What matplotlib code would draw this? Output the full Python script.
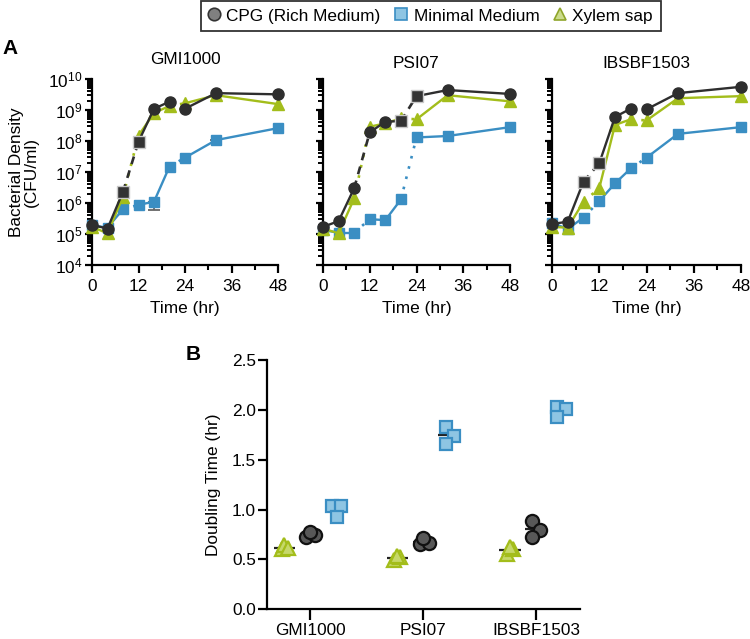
import matplotlib
matplotlib.use("Agg")
import matplotlib.pyplot as plt
import numpy as np
from matplotlib.lines import Line2D
from matplotlib.ticker import LogLocator, NullFormatter, MultipleLocator, FormatStrFormatter

plt.rcParams['font.family'] = ['Liberation Sans', 'DejaVu Sans']
plt.rcParams['mathtext.default'] = 'regular'
FS = 12.4

# ---- data, panel A: growth curves (CFU/ml) ----
times = [0, 4, 8, 12, 16, 20, 24, 32, 48]
strains = ["GMI1000", "PSI07", "IBSBF1503"]

cpg = {
    "GMI1000":   [1.95e5, 1.5e5, 2.3e6, 9.5e7, 1.1e9, 1.85e9, 1.1e9, 3.5e9, 3.2e9],
    "PSI07":     [1.7e5, 2.6e5, 3.0e6, 1.9e8, 4.2e8, 4.4e8, 2.8e9, 4.4e9, 3.3e9],
    "IBSBF1503": [2.1e5, 2.5e5, 4.9e6, 1.9e7, 6.0e8, 1.1e9, 1.05e9, 3.5e9, 5.6e9],
}
minimal = {
    "GMI1000":   [1.9e5, 1.6e5, 6.3e5, 8.7e5, 1.1e6, 1.5e7, 2.9e7, 1.07e8, 2.6e8],
    "PSI07":     [1.35e5, 1.1e5, 1.1e5, 3.0e5, 2.8e5, 1.3e6, 1.3e8, 1.45e8, 2.8e8],
    "IBSBF1503": [2.3e5, 1.45e5, 3.4e5, 1.15e6, 4.3e6, 1.3e7, 2.9e7, 1.7e8, 2.8e8],
}
xylem = {
    "GMI1000":   [1.7e5, 1.05e5, 1.6e6, 1.5e8, 8.0e8, 1.35e9, 1.65e9, 3.0e9, 1.55e9],
    "PSI07":     [1.5e5, 1.05e5, 1.4e6, 2.9e8, 3.7e8, 5.4e8, 5.0e8, 3.0e9, 1.9e9],
    "IBSBF1503": [1.7e5, 1.6e5, 1.1e6, 3.0e6, 3.3e8, 5.0e8, 4.6e8, 2.4e9, 2.8e9],
}
# lower end of the minimal medium error bars (only the visible ones)
minimal_lo = {
    "GMI1000":   [0, 0, 0, 0, 6.0e5, 0, 0, 8.5e7, 0],
    "PSI07":     [0, 0, 0, 0, 0, 0, 0, 0, 0],
    "IBSBF1503": [0, 0, 0, 0, 0, 0, 0, 0, 0],
}
# exponential window used for the CPG doubling time
cpg_window = {"GMI1000": (8, 12), "PSI07": (20, 24), "IBSBF1503": (8, 12)}

# ---- data, panel B: doubling times (hr) ----
dt_xylem = {"GMI1000": [0.60, 0.645, 0.61], "PSI07": [0.49, 0.52, 0.53], "IBSBF1503": [0.55, 0.60, 0.62]}
dt_cpg = {"GMI1000": [0.73, 0.745, 0.78], "PSI07": [0.655, 0.66, 0.72], "IBSBF1503": [0.89, 0.80, 0.73]}
dt_minimal = {"GMI1000": [1.04, 1.04, 0.93], "PSI07": [1.83, 1.74, 1.66], "IBSBF1503": [2.03, 2.01, 1.93]}
jitter_xylem = {"GMI1000": [-0.25, -0.23, -0.20], "PSI07": [-0.26, -0.21, -0.23], "IBSBF1503": [-0.26, -0.20, -0.23]}
jitter_cpg = {"GMI1000": [-0.035, 0.04, 0.0], "PSI07": [-0.03, 0.05, 0.0], "IBSBF1503": [-0.035, 0.032, -0.035]}
jitter_minimal = {"GMI1000": [0.19, 0.27, 0.24], "PSI07": [0.2, 0.27, 0.2], "IBSBF1503": [0.19, 0.27, 0.19]}

# colours
c_black = '#2e2e2e'
c_blue = '#3a8ec3'
c_green = '#a3bd1b'

fig = plt.figure(figsize=(7.5, 6.39), dpi=100)

# ---- panel A ----
lefts = [92, 323, 552]
widths = [186, 187, 189]


def draw_series(ax, y, color, marker, ms, gaps, broken, zorder):
    t = np.array(times)
    y = np.array(y)
    for i in range(len(t) - 1):
        seg = (t[i], t[i + 1])
        if seg in gaps:
            continue
        if seg in [(8, 12), (20, 24)]:
            ax.plot(t[i:i + 2], y[i:i + 2], color=color, lw=1.9, ls=broken, zorder=zorder, clip_on=False)
        else:
            ax.plot(t[i:i + 2], y[i:i + 2], color=color, lw=1.7, zorder=zorder, clip_on=False)
    ax.plot(t, y, ls='none', marker=marker, ms=ms, color=color, mec=color, zorder=zorder + 0.5, clip_on=False)


for k, s in enumerate(strains):
    ax = fig.add_axes([lefts[k] / 750, (639 - 265) / 639, widths[k] / 750, 186 / 639])
    ax.set_yscale('log')
    ax.set_ylim(1e4, 1e10)
    ax.set_xlim(0, 48)

    t = np.array(times)
    lo = np.array(minimal_lo[s])
    m = lo > 0
    ym = np.array(minimal[s])
    ax.errorbar(t[m], ym[m], yerr=[ym[m] - lo[m], np.zeros(m.sum())],
                fmt='none', ecolor='#666666', elinewidth=1.3, capsize=4, capthick=1.3, zorder=1)
    w = cpg_window[s]
    draw_series(ax, minimal[s], c_blue, 's', 7, [], (0, (1, 3)), 2)
    draw_series(ax, xylem[s], c_green, '^', 8, [], (0, (1, 3)), 3)
    gaps = [(20, 24)] if w == (8, 12) else []
    draw_series(ax, cpg[s], c_black, 'o', 8, gaps, (0, (3, 2.5)), 4)
    # squares marking the exponential window
    i0, i1 = times.index(w[0]), times.index(w[1])
    ax.plot([w[0], w[1]], [cpg[s][i0], cpg[s][i1]], ls='none', marker='s', ms=8,
            mfc='#333333', mec='#c8c8c8', mew=1.0, zorder=5, clip_on=False)

    ax.set_title(s, fontsize=FS, pad=11 if k == 0 else 8)
    ax.set_xticks([0, 12, 24, 36, 48])
    ax.set_xticks([6, 18, 30, 42], minor=True)
    ax.yaxis.set_major_locator(LogLocator(base=10, numticks=10))
    ax.yaxis.set_minor_locator(LogLocator(base=10, subs=np.arange(2, 10), numticks=20))
    ax.yaxis.set_minor_formatter(NullFormatter())
    if k > 0:
        ax.set_yticklabels([])
    for sp in ['top', 'right']:
        ax.spines[sp].set_visible(False)
    for sp in ['left', 'bottom']:
        ax.spines[sp].set_linewidth(1.6)
    ax.tick_params(axis='x', which='major', direction='out', length=5.8, width=1.6, labelsize=FS, pad=4.5)
    ax.tick_params(axis='x', which='minor', direction='out', length=3.6, width=1.5)
    ax.tick_params(axis='y', which='major', direction='out', length=5, width=1.6, labelsize=FS, pad=2)
    ax.tick_params(axis='y', which='minor', direction='out', length=3.4, width=1.4)
    ax.set_xlabel("Time (hr)", fontsize=FS, labelpad=5)

fig.text(24 / 750, 1 - 172 / 639, "Bacterial Density\n(CFU/ml)", rotation=90, ha='center', va='center',
         fontsize=FS, linespacing=1.05)
fig.text(10 / 750, 1 - 49 / 639, "A", fontsize=15, fontweight='bold', ha='center', va='center')

# ---- panel B ----
axb = fig.add_axes([267 / 750, (639 - 609.3) / 639, 313 / 750, 249.3 / 639])
xs = np.arange(1, len(strains) + 1)
for k, s in enumerate(strains):
    for vals, jit, off, mk, ms, fc, ec in [
        (dt_xylem[s], jitter_xylem[s], -0.23, '^', 10, '#c6d86a', c_green),
        (dt_cpg[s], jitter_cpg[s], 0.0, 'o', 9.5, '#585858', '#111111'),
        (dt_minimal[s], jitter_minimal[s], 0.23, 's', 9, '#8ec5e3', c_blue),
    ]:
        xc = xs[k] + off
        axb.hlines(np.mean(vals), xc - 0.095, xc + 0.095, color='#222222', lw=1.6, zorder=2)
        axb.plot(xs[k] + np.array(jit), vals, ls='none', marker=mk, ms=ms, mfc=fc, mec=ec, mew=1.6,
                 zorder=3, clip_on=False)

axb.set_xlim(0.615, 3.39)
axb.set_ylim(0, 2.5)
axb.set_xticks(xs)
axb.set_xticklabels(strains)
axb.yaxis.set_major_locator(MultipleLocator(0.5))
axb.yaxis.set_major_formatter(FormatStrFormatter('%.1f'))
for sp in ['top', 'right']:
    axb.spines[sp].set_visible(False)
for sp in ['left', 'bottom']:
    axb.spines[sp].set_linewidth(1.6)
axb.tick_params(axis='y', direction='out', length=6.5, width=1.6, labelsize=FS, pad=1.5)
axb.tick_params(axis='x', direction='out', length=8, width=1.6, labelsize=FS, pad=2)
axb.set_ylabel("Doubling Time (hr)", fontsize=FS)
axb.yaxis.set_label_coords((221 - 267) / 313, 0.5)
fig.text(193 / 750, 1 - 355 / 639, "B", fontsize=15, fontweight='bold', ha='center', va='center')

# ---- legend ----
handles = [
    Line2D([], [], ls='none', marker='o', ms=9, mfc='#808080', mec='#333333', mew=1.2),
    Line2D([], [], ls='none', marker='s', ms=8, mfc='#8ec5e3', mec='#3a8ec3', mew=1.2),
    Line2D([], [], ls='none', marker='^', ms=9, mfc='#cbdb8c', mec='#8fa52b', mew=1.2),
]
leg = fig.legend(handles, ["CPG (Rich Medium)", "Minimal Medium", "Xylem sap"], loc='upper left',
                 bbox_to_anchor=(201 / 750, 1 - 0.7 / 639), ncol=3, frameon=True, fancybox=False,
                 edgecolor='black', fontsize=FS, handlelength=0.6, handletextpad=0.42,
                 columnspacing=0.9, borderpad=0.45, borderaxespad=0)
leg.get_frame().set_linewidth(1.3)

fig.savefig("out.png", dpi=100)
